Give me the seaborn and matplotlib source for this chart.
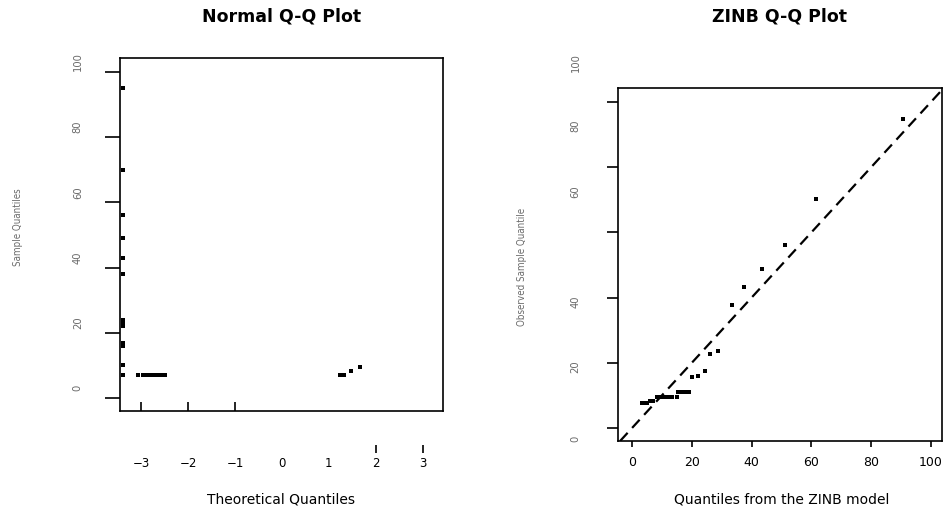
import numpy as np
import pandas as pd
import matplotlib
matplotlib.use('Agg')
import matplotlib.pyplot as plt
import matplotlib.transforms as mtransforms
import seaborn as sns

# left panel: normal Q-Q
normal_theo = [-3.38, -3.38, -3.38, -3.38, -3.38, -3.38, -3.38, -3.38, -3.38,
               -3.38, -3.38, -3.38, -3.38,
               -3.06, -2.96, -2.87, -2.81, -2.74, -2.68, -2.62, -2.55, -2.49,
               1.23, 1.32, 1.47, 1.66]
normal_sample = [95, 70, 56, 49, 43, 38, 24, 23, 22, 17, 16, 10, 7,
                 7, 7, 7, 7, 7, 7, 7, 7, 7,
                 7, 7, 8.3, 9.5]

# right panel: ZINB Q-Q
zinb_theo = [3.2, 4.0, 4.9, 6.0, 7.0, 8.3, 9.5, 10.5, 11.5, 12.5, 13.5, 14.9,
             15.5, 16.5, 17.5, 18.5, 19.2, 20.0, 22.2, 24.4, 26.1, 28.9,
             33.5, 37.6, 43.6, 51.2, 61.4, 90.5]
zinb_obs = [7.6, 7.6, 7.6, 8.4, 8.4, 9.4, 9.4, 9.4, 9.4, 9.4, 9.4, 9.4,
            11.1, 11.1, 11.1, 11.1, 11.1, 15.5, 16.0, 17.6, 22.7, 23.7,
            37.7, 43.2, 48.7, 56.1, 70.2, 94.8]

normal_xticks = [-3, -2, -1, 0, 1, 2, 3]
yticks = [0, 20, 40, 60, 80, 100]
zinb_xticks = [0, 20, 40, 60, 80, 100]

# label shifts (px, positive = up) as they sit in the original
left_ylab_shift = [11, 11, 11, 11, 11, 11]
right_ylab_shift = [-10, -3, -3, 42, 42, 40]

sns.set_style('white')
plt.rcParams['font.family'] = ['DejaVu Sans']
plt.rcParams['text.color'] = 'black'

DPI = 100
fig = plt.figure(figsize=(9.47, 5.10), dpi=DPI)
ax1 = fig.add_axes([0.1267, 0.1922, 0.3411, 0.6922])
ax2 = fig.add_axes([0.6526, 0.1333, 0.3421, 0.6922])

df1 = pd.DataFrame({'theo': normal_theo, 'sample': normal_sample})
df2 = pd.DataFrame({'theo': zinb_theo, 'obs': zinb_obs})

sns.scatterplot(data=df1, x='theo', y='sample', ax=ax1, marker='s', s=8,
                color='black', linewidth=0, clip_on=False)
sns.scatterplot(data=df2, x='theo', y='obs', ax=ax2, marker='s', s=8,
                color='black', linewidth=0)
ax2.axline((0, 0), slope=1, color='black', linewidth=1.6,
           linestyle=(0, (5, 3)))

ax1.set_xlim(-3.45, 3.43)
ax1.set_ylim(-4.0, 104.3)
ax2.set_xlim(-4.7, 103.7)
ax2.set_ylim(-4.0, 104.3)

for ax in (ax1, ax2):
    for sp in ax.spines.values():
        sp.set_visible(True)
        sp.set_color('black')
        sp.set_linewidth(1.2)
    ax.set_xlabel('')
    ax.set_ylabel('')

grey = '#6a6a6a'

# left x axis: short inward ticks on the frame, labels lower down
ax1.set_xticks(normal_xticks)
ax1.tick_params(axis='x', direction='in', length=6.5, width=1.2,
                labelbottom=False, bottom=True, color='black')
for val, t in zip(normal_xticks, ax1.xaxis.get_major_ticks(len(normal_xticks))):
    t.tick1line.set_visible(val < 0)

sec = ax1.secondary_xaxis(-0.119)
sec.set_xticks(normal_xticks)
sec.spines['bottom'].set_visible(False)
sec.tick_params(axis='x', direction='in', length=5.8, width=1.2, pad=2,
                labelsize=8.5, colors='black')
for val, t in zip(normal_xticks, sec.xaxis.get_major_ticks(len(normal_xticks))):
    t.tick1line.set_visible(val >= 2)

# right x axis
ax2.set_xticks(zinb_xticks)
ax2.tick_params(axis='x', direction='out', length=4.3, width=1.2, pad=6,
                labelsize=9, bottom=True, colors='black')

# y axes, vertical grey labels
for ax, length, pad, shifts in ((ax1, 10.8, 16, left_ylab_shift),
                                (ax2, 7.9, 19, right_ylab_shift)):
    ax.set_yticks(yticks)
    ax.tick_params(axis='y', direction='out', length=length, width=1.2,
                   pad=pad, labelsize=8, left=True, color='black',
                   labelcolor=grey, labelrotation=90)
    for dy, t in zip(shifts, ax.yaxis.get_major_ticks(len(yticks))):
        t.label1.set_fontstretch('condensed')
        t.label1.set_va('center')
        off = mtransforms.ScaledTranslation(0, dy / DPI, fig.dpi_scale_trans)
        t.label1.set_transform(t.label1.get_transform() + off)

# titles and axis labels
ax1.text(0.5, 1.119, 'Normal Q-Q Plot', transform=ax1.transAxes,
         ha='center', va='center', fontsize=12.5, fontweight='bold',
         color='black')
ax2.text(0.5, 1.204, 'ZINB Q-Q Plot', transform=ax2.transAxes,
         ha='center', va='center', fontsize=12.5, fontweight='bold',
         color='black')

ax1.text(0.5, -0.249, 'Theoretical Quantiles', transform=ax1.transAxes,
         ha='center', va='center', fontsize=10, color='black')
ax2.text(0.506, -0.164, 'Quantiles from the ZINB model', transform=ax2.transAxes,
         ha='center', va='center', fontsize=10, color='black')

ax1.text(-0.316, 0.524, 'Sample Quantiles', transform=ax1.transAxes,
         ha='center', va='center', rotation=90, fontsize=7, color=grey,
         fontstretch='condensed')
ax2.text(-0.296, 0.496, 'Observed Sample Quantile', transform=ax2.transAxes,
         ha='center', va='center', rotation=90, fontsize=7, color=grey,
         fontstretch='condensed')

fig.savefig('out.png', dpi=DPI)
plt.close(fig)
